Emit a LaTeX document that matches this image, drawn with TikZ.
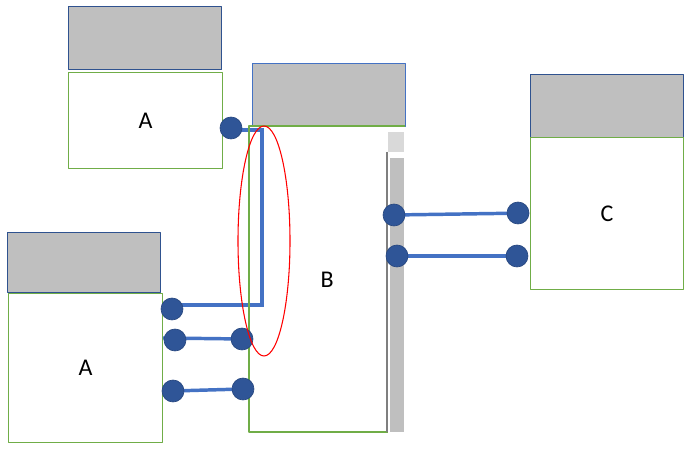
\documentclass[tikz,border=0pt]{standalone}
\usepackage{fontspec}
\setmainfont{Carlito}
\usetikzlibrary{positioning,backgrounds}
\definecolor{hdr}{HTML}{BFBFBF}
\definecolor{hdrln}{HTML}{2F528F}
\definecolor{hdrlt}{HTML}{4472C4}
\definecolor{leaf}{HTML}{70AD47}
\definecolor{portc}{HTML}{2F5597}
\definecolor{wirec}{HTML}{4472C4}
\definecolor{barlt}{HTML}{D9D9D9}
\definecolor{bardk}{HTML}{7F7F7F}
\tikzset{fig/.style={line join=round,x=0.75pt,y=-0.75pt},
  head/.style 2 args={draw=hdrln,fill=hdr,line width=1.1pt,inner sep=0pt,anchor=north west,
    minimum width=#1*0.75pt,minimum height=#2*0.75pt},
  body/.style 2 args={draw=leaf,line width=0.9pt,inner sep=0pt,anchor=north west,
    minimum width=#1*0.75pt,minimum height=#2*0.75pt,font=\fontsize{18}{20}\selectfont},
  port/.style={circle,fill=portc,draw=portc!85!black,line width=0.5pt,inner sep=0pt,minimum size=16.5pt},
  wire/.style={wirec,line width=2.6pt}}
\begin{document}
\begin{tikzpicture}[fig]
  \useasboundingbox(0,0)rectangle(690,459);
  % top A
  \node[head={153}{63}](hA1)at(68,6){};
  \node[body={154}{96}](A1)at(68,72){A};
  % bottom A
  \node[head={153}{60}](hA2)at(7,232){};
  \node[body={154}{149}](A2)at(8,293){A};
  % B with its scroll bar
  \node[head={153}{63},draw=hdrlt](hB)at(252,63){};
  \node[body={155}{306},draw=none](B)at(249,126){B};
  \draw[leaf,line width=0.9pt](405,126)--(249,126)--(249,432)--(388,432);
  \fill[barlt](388,132)rectangle(404,152);
  \fill[hdr](390,158)rectangle(404,432);
  \draw[bardk,line width=0.8pt](387,152)--(387,432);
  % C
  \node[head={153}{63}](hC)at(530,74){};
  \node[body={153}{152}](C)at(530,137){C};
  % ports
  \node[port](p1)at(231,128){};
  \node[port](p2)at(172,309){};
  \node[port](p3)at(175,340){};
  \node[port](p4)at(242,339){};
  \node[port](p5)at(173,391){};
  \node[port](p6)at(243,389){};
  \node[port](p7)at(394,215){};
  \node[port](p8)at(518,213){};
  \node[port](p9)at(397,256){};
  \node[port](p10)at(517,256){};
  \coordinate(k1)at(262,130);\coordinate(k2)at(262,305);
  \begin{scope}[on background layer]
   \fill[white](0,0)rectangle(690,459);
   \draw[wire](p1.center|-k1)--(k1)--(k2)--(k2-|p2.center);
   \draw[wire](163,338)--(p4.center);
   \draw[wire](p5.center)--(p6.center);
   \draw[wire](p7.center)--(529,213);
   \draw[wire](p9.center)--(p10.center);
  \end{scope}
  \draw[red,line width=0.8pt](264,241)ellipse[x radius=26,y radius=115];
\end{tikzpicture}
\end{document}
